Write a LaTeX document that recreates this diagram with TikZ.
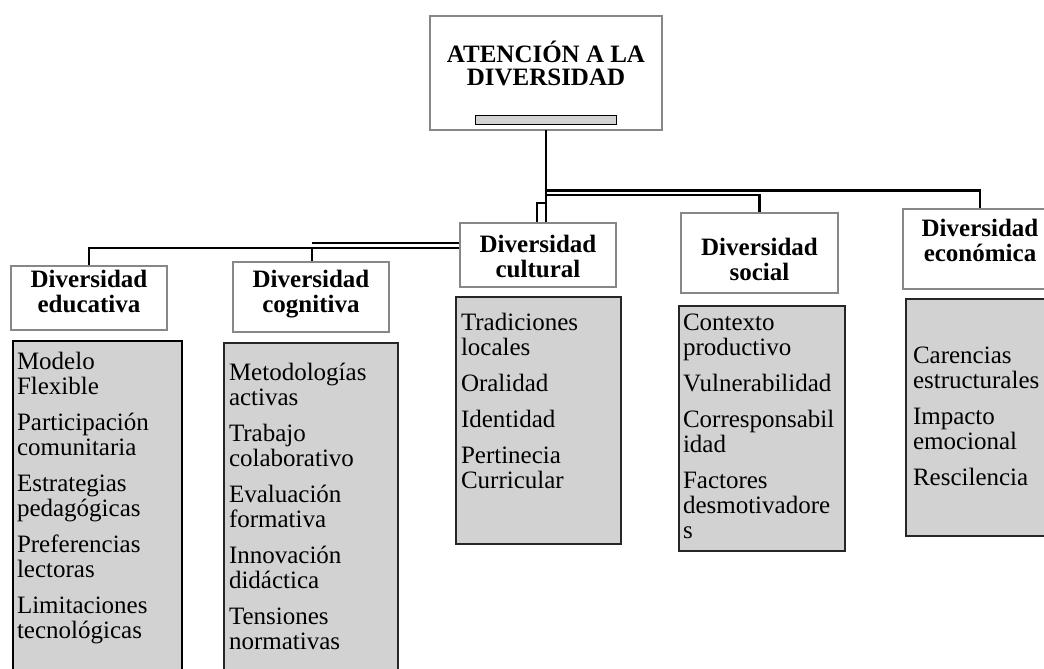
\documentclass[tikz,border=0pt]{standalone}
\usepackage{fontspec}
\setmainfont{Liberation Serif}
\definecolor{cfill}{RGB}{210,210,210}
\definecolor{hborder}{RGB}{135,135,135}
\newcommand\zstrut{\rule{0pt}{20pt}}
\begin{document}
\begin{tikzpicture}[x=1pt,y=-1pt,
  hdr/.style={draw=hborder, line width=1.4pt, fill=white, anchor=north west, inner sep=0pt, outer sep=0pt},
  cnt/.style={draw=black!85, line width=1.2pt, fill=cfill, anchor=north west, inner sep=0pt, outer sep=0pt},
  ctext/.style={anchor=north west, inner sep=0pt, outer sep=0pt, align=left, font=\fontsize{25}{25}\selectfont},
  htext/.style={anchor=north, inner sep=0pt, outer sep=0pt, align=center, font=\bfseries\fontsize{25}{25}\selectfont},
  ttext/.style={anchor=base, inner sep=0pt, outer sep=0pt, font=\bfseries\fontsize{25}{25}\selectfont},
  conn/.style={draw=black, line width=2.8pt},
  connthin/.style={draw=black, line width=2.1pt}
]
\useasboundingbox (0,0) rectangle (1044,669);
\clip (0,0) rectangle (1044,669);
\fill[white] (0,0) rectangle (1044,669);

% ---- boxes ----
\node[hdr, minimum width=232pt, minimum height=114pt] (top) at (430,16) {};
\node[cnt, draw=black, line width=1pt, minimum width=141pt, minimum height=9pt] (bar) at (475,115) {};

\node[hdr, minimum width=156pt, minimum height=64pt] (eduH) at (11,266) {};
\node[hdr, minimum width=156pt, minimum height=70pt] (cogH) at (233,262) {};
\node[hdr, minimum width=156pt, minimum height=64pt] (culH) at (460,223) {};
\node[hdr, minimum width=157pt, minimum height=80pt] (socH) at (681,213) {};
\node[hdr, minimum width=154pt, minimum height=80pt] (ecoH) at (903,209) {};

\node[cnt, draw=black, minimum width=169pt, minimum height=340pt] (eduC) at (13,341) {};
\node[cnt, minimum width=174pt, minimum height=340pt] (cogC) at (224,343) {};
\node[cnt, minimum width=165pt, minimum height=247pt] (culC) at (456,297) {};
\node[cnt, minimum width=166pt, minimum height=245pt] (socC) at (679,306) {};
\node[cnt, minimum width=160pt, minimum height=237pt] (ecoC) at (906,299) {};

% ---- connectors ----
\coordinate (jogA) at (top.south |- 0,203);
\coordinate (jogB) at (537,203);
\coordinate (outerA) at (top.south |- 0,190.5);
\coordinate (innerA) at (top.south |- 0,195.2);
\coordinate (leftU) at (312,243.3);
\coordinate (leftL) at (312,247.7);
\coordinate (leftE) at (eduH.north |- 0,247.7);

\draw[conn] (top.south) -- (top.south |- culH.north);
\draw[connthin] (jogA) -- (jogB) -- (jogB |- culH.north);
\draw[connthin] (outerA) -| (ecoH.north);
\draw[connthin] (innerA) -| (socH.north);
\draw[connthin] (culH.west |- leftU) -- (leftU);
\draw[connthin] (culH.west |- leftL) -- (leftE) -- (eduH.north);
\draw[connthin] (leftL) -- (leftL |- cogH.north);

% box borders drawn again over the line ends
\node[hdr, minimum width=156pt, minimum height=64pt] (eduH2) at (11,266) {};
\node[hdr, minimum width=156pt, minimum height=70pt] (cogH2) at (233,262) {};
\node[hdr, minimum width=156pt, minimum height=64pt] (culH2) at (460,223) {};
\node[hdr, minimum width=157pt, minimum height=80pt] (socH2) at (681,213) {};
\node[hdr, minimum width=154pt, minimum height=80pt] (ecoH2) at (903,209) {};

% ---- title ----
\node[ttext] (topT1) at (546,63) {ATENCIÓN A LA};
\node[ttext] (topT2) at (546,85) {DIVERSIDAD};

% ---- header texts ----
\node[htext] (eduHT) at (89,267) {\zstrut Diversidad\\educativa};
\node[htext] (cogHT) at (311,267) {\zstrut Diversidad\\cognitiva};
\node[htext] (culHT) at (538,232) {\zstrut Diversidad\\cultural};
\node[htext] (socHT) at (759.5,235) {\zstrut Diversidad\\social};
\node[htext] (ecoHT) at (980,216) {\zstrut Diversidad\\económica};

% ---- content texts ----
\node[ctext] (eduT) at (17,349) {\zstrut Modelo\\Flexible\\[11pt]Participación\\comunitaria\\[11pt]Estrategias\\pedagógicas\\[11pt]Preferencias\\lectoras\\[11pt]Limitaciones\\tecnológicas};
\node[ctext] (cogT) at (229,360) {\zstrut Metodologías\\activas\\[11pt]Trabajo\\colaborativo\\[11pt]Evaluación\\formativa\\[11pt]Innovación\\didáctica\\[11pt]Tensiones\\normativas};
\node[ctext] (culT) at (461,310) {\zstrut Tradiciones\\locales\\[11pt]Oralidad\\[11pt]Identidad\\[11pt]Pertinecia\\Curricular};
\node[ctext] (socT) at (683,310) {\zstrut Contexto\\productivo\\[11pt]Vulnerabilidad\\[11pt]Corresponsabil\\idad\\[11pt]Factores\\desmotivadore\\s};
\node[ctext] (ecoT) at (913,343) {\zstrut Carencias\\estructurales\\[11pt]Impacto\\emocional\\[11pt]Rescilencia};
\end{tikzpicture}
\end{document}
